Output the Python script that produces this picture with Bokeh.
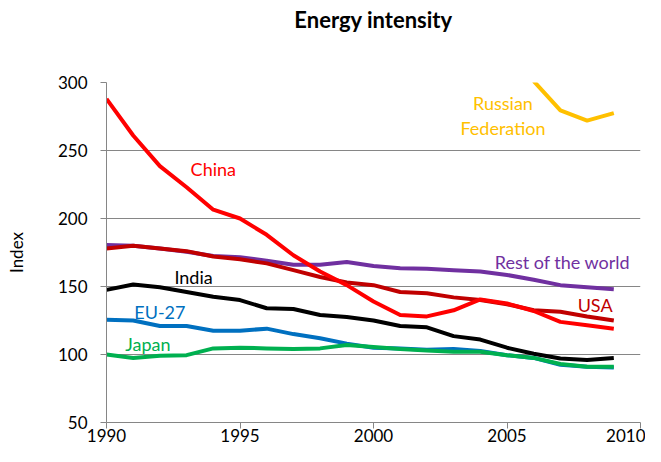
from bokeh.plotting import figure
from bokeh.models import ColumnDataSource, FixedTicker, LinearAxis
from bokeh.core.properties import value
from bokeh.embed import file_html
from bokeh.resources import INLINE

years = list(range(1990, 2010))
china = [288, 261, 238.5, 223, 206.5, 200, 188, 173, 161, 151, 139, 129, 128, 132.5, 140.5, 137.5, 132, 124, 121.5, 119]
usa = [178, 180, 178, 176, 172, 170, 167, 162, 157, 153, 151, 146, 145, 142, 140, 137, 132.5, 131.5, 128, 125]
rest_world = [180.5, 180, 178, 175.5, 172.5, 171.5, 169, 166, 166, 168, 165, 163.5, 163, 162, 161, 158.5, 155, 151, 149.5, 148]
india = [147.5, 151.5, 149.5, 146, 142.5, 140, 134, 133.5, 129, 127.5, 125, 121, 120, 113.5, 111, 105, 100.5, 97, 96, 97.5]
eu27 = [125.5, 125, 121, 121, 117.5, 117.5, 119, 115, 112, 108, 105, 104.5, 103.5, 104, 102.5, 99.5, 97.5, 92.5, 91, 90.5]
japan = [100, 97.5, 99, 99.5, 104.5, 105, 104.5, 104, 104.5, 107, 105.5, 104, 103, 102, 102, 99.5, 97.5, 93, 91, 91]
russia_years = [2006, 2007, 2008, 2009]
russia = [301, 279.5, 272, 277.5]

x_ticks = [1990, 1995, 2000, 2005, 2010]
y_ticks = [50, 100, 150, 200, 250, 300]

label_texts = ["China", "Russian", "Federation", "Rest of the world", "India", "USA", "EU-27", "Japan"]
label_x = [1994.0, 2004.85, 2004.85, 2007.08, 1993.26, 2008.3, 1992.0, 1991.55]
label_y = [236.4, 284.9, 266.5, 167.9, 157.1, 136.6, 131.3, 107.8]
label_colors = ["#FF0000", "#FFC000", "#FFC000", "#7030A0", "#000000", "#C00000", "#0070C0", "#00B050"]

FONT = "Lato"

p = figure(width=645, height=446, x_range=(1990, 2010), y_range=(50, 300),
           output_backend="svg", toolbar_location=None,
           min_border_left=106, min_border_right=5, min_border_top=82, min_border_bottom=24)
p.outline_line_color = None
p.background_fill_color = "white"
p.border_fill_color = "white"

for ax in (p.xaxis[0], p.yaxis[0]):
    ax.axis_line_color = "#868686"
    ax.major_tick_line_color = "#868686"
    ax.minor_tick_line_color = None
    ax.major_tick_in = 0
    ax.major_tick_out = 6
    ax.major_label_text_font = FONT
    ax.major_label_text_font_size = "17px"
    ax.major_label_text_color = "#000000"

p.xaxis[0].ticker = FixedTicker(ticks=x_ticks)
p.yaxis[0].ticker = FixedTicker(ticks=y_ticks)
p.xaxis[0].major_label_standoff = 0
p.yaxis[0].major_label_standoff = 13
p.yaxis[0].axis_label = "Index"
p.yaxis[0].axis_label_text_font = FONT
p.yaxis[0].axis_label_text_font_size = "17px"
p.yaxis[0].axis_label_text_font_style = "normal"
p.yaxis[0].axis_label_text_color = "#000000"
p.yaxis[0].axis_label_standoff = 28

# chart title, carried by an invisible axis above the frame
title_axis = LinearAxis(ticker=FixedTicker(ticks=[]), axis_label="Energy intensity")
title_axis.axis_line_color = None
title_axis.major_tick_line_color = None
title_axis.minor_tick_line_color = None
title_axis.major_tick_out = 0
title_axis.major_tick_in = 0
title_axis.major_label_standoff = 0
title_axis.axis_label_standoff = 50
title_axis.axis_label_text_font = FONT
title_axis.axis_label_text_font_size = "22px"
title_axis.axis_label_text_font_style = "bold"
title_axis.axis_label_text_color = "#000000"
p.add_layout(title_axis, "above")

p.xgrid.grid_line_color = None
p.ygrid.grid_line_color = "#868686"
p.ygrid.ticker = FixedTicker(ticks=y_ticks)

series = [
    (russia_years, russia, "#FFC000"),
    (years, rest_world, "#7030A0"),
    (years, usa, "#C00000"),
    (years, india, "#000000"),
    (years, eu27, "#0070C0"),
    (years, japan, "#00B050"),
    (years, china, "#FF0000"),
]
for xs, ys, col in series:
    p.line(xs, ys, line_color=col, line_width=4, line_join="round")

src = ColumnDataSource(dict(x=label_x, y=label_y, t=label_texts, c=label_colors))
p.text(x="x", y="y", text="t", text_color="c", source=src, text_align="center",
       text_baseline="middle", text_font=value(FONT), text_font_size="18px")

open("out.html", "w").write(file_html(p, INLINE))
